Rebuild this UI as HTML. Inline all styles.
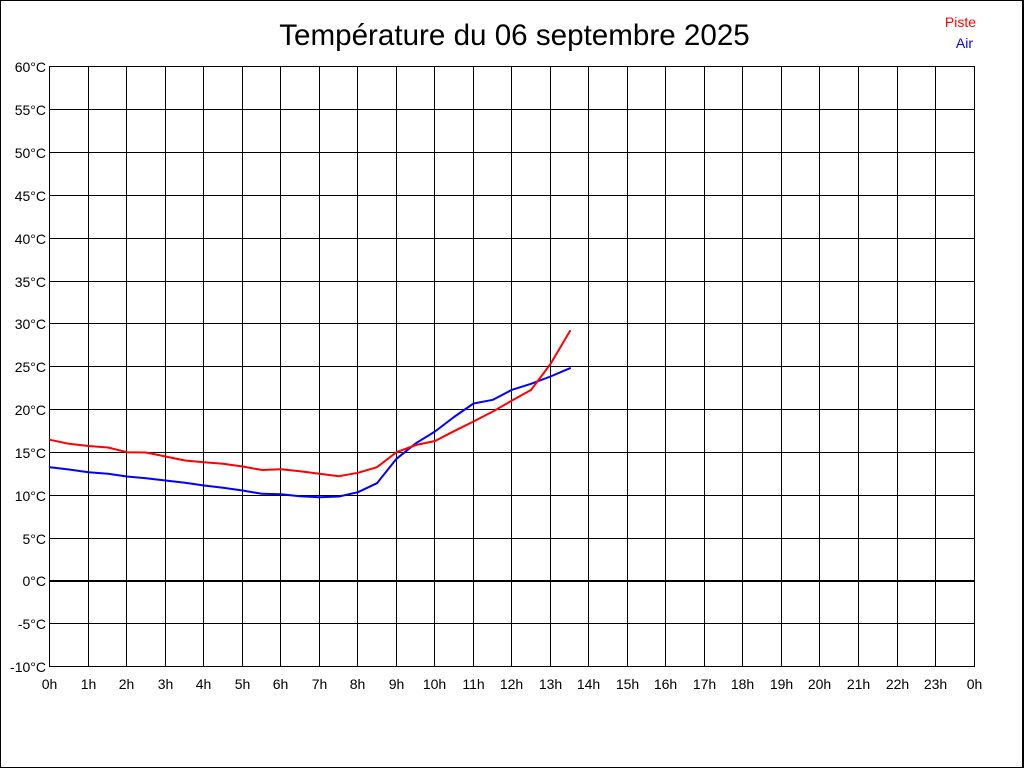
<!DOCTYPE html>
<html>
<head>
<meta charset="utf-8">
<style>
html,body{margin:0;padding:0;background:#fff;}
body{width:1024px;height:768px;overflow:hidden;}
svg{display:block;}
text{font-family:"Liberation Sans",Arial,sans-serif;}
</style>
</head>
<body>
<svg width="1024" height="768" viewBox="0 0 1024 768" xmlns="http://www.w3.org/2000/svg">
<rect x="0" y="0" width="1024" height="768" fill="#fff"/>
<g fill="#000" shape-rendering="crispEdges">
<rect x="0" y="0" width="1024" height="1"/>
<rect x="0" y="0" width="1" height="768"/>
<rect x="1022" y="0" width="2" height="768"/>
<rect x="0" y="767" width="1024" height="1"/>
</g>
<text x="514.5" y="45" font-size="29.6" text-anchor="middle" fill="#000">Température du 06 septembre 2025</text>
<text x="976" y="27" font-size="14" text-anchor="end" fill="#ff0000">Piste</text>
<text x="973" y="48" font-size="14" text-anchor="end" fill="#0000ff">Air</text>

<g fill="#000" shape-rendering="crispEdges">
<rect x="49" y="66" width="926" height="1"/>
<rect x="49" y="109" width="926" height="1"/>
<rect x="49" y="152" width="926" height="1"/>
<rect x="49" y="195" width="926" height="1"/>
<rect x="49" y="238" width="926" height="1"/>
<rect x="49" y="281" width="926" height="1"/>
<rect x="49" y="323" width="926" height="1"/>
<rect x="49" y="366" width="926" height="1"/>
<rect x="49" y="409" width="926" height="1"/>
<rect x="49" y="452" width="926" height="1"/>
<rect x="49" y="495" width="926" height="1"/>
<rect x="49" y="538" width="926" height="1"/>
<rect x="49" y="580" width="926" height="2"/>
<rect x="49" y="623" width="926" height="1"/>
<rect x="49" y="666" width="926" height="1"/>
<rect x="49" y="66" width="1" height="601"/>
<rect x="88" y="66" width="1" height="601"/>
<rect x="126" y="66" width="1" height="601"/>
<rect x="165" y="66" width="1" height="601"/>
<rect x="203" y="66" width="1" height="601"/>
<rect x="242" y="66" width="1" height="601"/>
<rect x="280" y="66" width="1" height="601"/>
<rect x="319" y="66" width="1" height="601"/>
<rect x="357" y="66" width="1" height="601"/>
<rect x="396" y="66" width="1" height="601"/>
<rect x="434" y="66" width="1" height="601"/>
<rect x="473" y="66" width="1" height="601"/>
<rect x="511" y="66" width="1" height="601"/>
<rect x="550" y="66" width="1" height="601"/>
<rect x="588" y="66" width="1" height="601"/>
<rect x="627" y="66" width="1" height="601"/>
<rect x="665" y="66" width="1" height="601"/>
<rect x="704" y="66" width="1" height="601"/>
<rect x="742" y="66" width="1" height="601"/>
<rect x="781" y="66" width="1" height="601"/>
<rect x="819" y="66" width="1" height="601"/>
<rect x="858" y="66" width="1" height="601"/>
<rect x="897" y="66" width="1" height="601"/>
<rect x="935" y="66" width="1" height="601"/>
<rect x="974" y="66" width="1" height="601"/>
</g>

<g font-size="14" text-anchor="end" fill="#000">
<text x="46" y="72">60°C</text>
<text x="46" y="115">55°C</text>
<text x="46" y="158">50°C</text>
<text x="46" y="201">45°C</text>
<text x="46" y="244">40°C</text>
<text x="46" y="287">35°C</text>
<text x="46" y="329">30°C</text>
<text x="46" y="372">25°C</text>
<text x="46" y="415">20°C</text>
<text x="46" y="458">15°C</text>
<text x="46" y="501">10°C</text>
<text x="46" y="544">5°C</text>
<text x="46" y="586">0°C</text>
<text x="46" y="629">-5°C</text>
<text x="46" y="672">-10°C</text>
</g>

<g font-size="14" text-anchor="middle" fill="#000">
<text x="49.5" y="689">0h</text>
<text x="88.5" y="689">1h</text>
<text x="126.5" y="689">2h</text>
<text x="165.5" y="689">3h</text>
<text x="203.5" y="689">4h</text>
<text x="242.5" y="689">5h</text>
<text x="280.5" y="689">6h</text>
<text x="319.5" y="689">7h</text>
<text x="357.5" y="689">8h</text>
<text x="396.5" y="689">9h</text>
<text x="434.5" y="689">10h</text>
<text x="473.5" y="689">11h</text>
<text x="511.5" y="689">12h</text>
<text x="550.5" y="689">13h</text>
<text x="588.5" y="689">14h</text>
<text x="627.5" y="689">15h</text>
<text x="665.5" y="689">16h</text>
<text x="704.5" y="689">17h</text>
<text x="742.5" y="689">18h</text>
<text x="781.5" y="689">19h</text>
<text x="819.5" y="689">20h</text>
<text x="858.5" y="689">21h</text>
<text x="897.5" y="689">22h</text>
<text x="935.5" y="689">23h</text>
<text x="974.5" y="689">0h</text>
</g>

<polyline fill="none" stroke="#0000ff" stroke-width="2" stroke-linejoin="round" stroke-linecap="round" points="50,467.2 69,469.5 88.5,472.2 108,473.8 127,476.5 146,478.2 165.5,480.5 185,482.8 204,485.5 223,487.8 242.5,490.5 262,493.8 281,494.2 300,496.2 319.5,497.2 339,496.5 358,492.2 377,483.2 396.5,458.8 416,443.2 435,431.5 454,417 473.5,403.5 493,399.8 512,389.8 531,383.8 550.5,376.5 570,368.2"/>

<polyline fill="none" stroke="#ff0000" stroke-width="2" stroke-linejoin="round" stroke-linecap="round" points="50,439.8 69,443.8 88.5,446 108,447.5 127,452.2 146,452.5 165.5,456.5 185,460.5 204,462.2 223,463.8 242.5,466.5 262,470 281,469.2 300,471.2 319.5,473.8 339,476.2 358,472.8 377,467.2 396.5,452.2 416,445 435,441 454,431.2 473.5,421.5 493,411.5 512,400.5 531,390 550.5,364 570,331"/>
</svg>
</body>
</html>
